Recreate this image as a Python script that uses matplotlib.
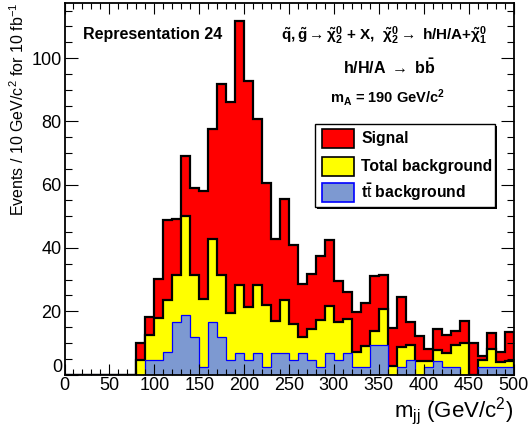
import numpy as np
import matplotlib
matplotlib.use("Agg")
import matplotlib.pyplot as plt
from matplotlib.patches import Rectangle
from matplotlib.ticker import MultipleLocator, FuncFormatter

plt.rcParams["font.family"] = ["Liberation Sans", "DejaVu Sans"]
plt.rcParams["mathtext.fontset"] = "custom"
plt.rcParams["mathtext.rm"] = "Liberation Sans"
plt.rcParams["mathtext.it"] = "Liberation Sans:italic"
plt.rcParams["mathtext.bf"] = "Liberation Sans:bold"
plt.rcParams["mathtext.default"] = "regular"

# m_jj bins, 10 GeV wide, 0-500
bin_edges = list(range(0, 510, 10))

# signal + total background (top of the red histogram)
signal_plus_bkg = [
    0, 0, 0, 0, 0, 0, 0, 0,
    9.9, 18.1, 30.3, 48.7, 49.2, 69.0, 58.8, 58.1, 77.6, 91.9,
    86.2, 111.8, 92.9, 80.8, 60.5, 42.9, 55.6, 41.0, 28.7, 31.9,
    37.6, 42.6, 29.7, 26.0, 19.7, 22.6, 31.0, 31.4, 14.8, 24.4,
    16.6, 12.3, 8.0, 14.3, 12.5, 13.9, 17.0, 10.1, 5.8, 13.0,
    7.0, 13.5,
]

# total background (yellow)
total_bkg = [
    0, 0, 0, 0, 0, 0, 0, 0,
    4.6, 12.6, 17.9, 23.4, 31.5, 50.2, 31.5, 23.9, 42.9, 31.5,
    19.5, 28.2, 21.3, 28.2, 22.0, 16.8, 23.4, 16.1, 12.0, 14.4,
    17.1, 21.6, 16.6, 17.4, 7.0, 8.9, 13.9, 20.7, 2.7, 8.7,
    9.3, 4.4, 4.4, 7.6, 6.8, 9.2, 9.8, 0, 4.6, 8.1,
    3.8, 4.3,
]

# ttbar background (blue)
ttbar_bkg = [
    0, 0, 0, 0, 0, 0, 0, 0,
    0, 4.6, 4.6, 7.0, 16.5, 18.9, 11.8, 2.3, 16.5, 12.0,
    4.6, 6.9, 4.6, 6.9, 2.3, 6.9, 6.9, 4.6, 6.9, 4.6,
    2.3, 6.9, 4.6, 6.9, 2.3, 2.3, 9.4, 9.4, 0, 2.3,
    4.6, 0, 2.3, 4.4, 2.3, 2.3, 0, 0, 2.3, 2.3,
    2.3, 2.3,
]

legend_labels = ["Signal", "Total background", r"t$\bar{\rm t}$ background"]

RED = "#ff0000"
YELLOW = "#ffff00"
BLUE_FILL = "#7d99d1"
BLUE_LINE = "#0000ff"

W, H = 530, 426


def fx(x):
    return x / W


def fy(y):
    return 1 - y / H


fig = plt.figure(figsize=(W / 100, H / 100), dpi=100)
ax = fig.add_axes([fx(64.5), fy(374.5), (513.5 - 64.5) / W, (374.5 - 3.3) / H])

ax.stairs(signal_plus_bkg, bin_edges, baseline=0, fill=True, color=RED, lw=0)
ax.stairs(signal_plus_bkg, bin_edges, baseline=0, color="black", lw=1.6)
ax.stairs(total_bkg, bin_edges, baseline=0, fill=True, color=YELLOW, lw=0)
ax.stairs(total_bkg, bin_edges, baseline=0, color="black", lw=1.6)
ax.stairs(ttbar_bkg, bin_edges, baseline=0, fill=True, color=BLUE_FILL, lw=0)
ax.stairs(ttbar_bkg, bin_edges, baseline=0, color=BLUE_LINE, lw=0.9)

ax.set_xlim(0, 500)
ax.set_ylim(0, 117.3)
ax.xaxis.set_major_locator(MultipleLocator(50))
ax.xaxis.set_minor_locator(MultipleLocator(10))
ax.yaxis.set_major_locator(MultipleLocator(20))
ax.yaxis.set_minor_locator(MultipleLocator(5))
# ROOT lifts the y "0" label off the corner; drawn separately below
ax.yaxis.set_major_formatter(FuncFormatter(lambda v, _: "" if v == 0 else f"{v:g}"))
ax.tick_params(which="both", direction="in", top=True, right=True, width=0.8,
               labelsize=13)
ax.tick_params(axis="x", which="major", length=8, pad=2)
ax.tick_params(axis="x", which="minor", length=4)
ax.tick_params(axis="y", which="major", length=9.7, pad=2)
ax.tick_params(axis="y", which="minor", length=4.9)
for sp in ax.spines.values():
    sp.set_linewidth(1.3)

fig.text(fx(62), fy(367), "0", ha="right", va="center", fontsize=13)
fig.text(fx(513), fy(417), r"m$_{\rm jj}$ (GeV/c$^{2}$)", ha="right",
         va="baseline", fontsize=16)
fig.text(fx(18), fy(3), r"Events / 10 GeV/c$^{2}$ for 10 fb$^{-1}$",
         rotation=90, ha="center", va="top", fontsize=11.5)

fig.text(fx(153), fy(35), "Representation 24", ha="center", va="center",
         fontsize=11.5, fontweight="bold")
fig.text(fx(384), fy(36),
         r"$\tilde{q}, \tilde{g} \rightarrow \tilde{\chi}^{0}_{2}$ + X,  "
         r"$\tilde{\chi}^{0}_{2} \rightarrow$ h/H/A+$\tilde{\chi}^{0}_{1}$",
         ha="center", va="center", fontsize=11, fontweight="bold")
fig.text(fx(389.5), fy(67), r"h/H/A $\rightarrow$ b$\bar{b}$",
         ha="center", va="center", fontsize=11.5, fontweight="bold")
fig.text(fx(387.5), fy(97), r"m$_{A}$ = 190 GeV/c$^{2}$",
         ha="center", va="center", fontsize=10.5, fontweight="bold")

# legend box with ROOT-style shadow
fig.add_artist(Rectangle((fx(317), fy(209)), (495 - 315) / W, (207 - 124) / H,
                         transform=fig.transFigure, facecolor="black",
                         edgecolor="none"))
fig.add_artist(Rectangle((fx(315), fy(207)), (495 - 315) / W, (207 - 124) / H,
                         transform=fig.transFigure, facecolor="white",
                         edgecolor="black", lw=1.0))
legend_fills = [RED, YELLOW, BLUE_FILL]
legend_edges = ["black", "black", BLUE_LINE]
legend_tops = [129, 156.5, 183]
for label, fc, ec, top in zip(legend_labels, legend_fills, legend_edges, legend_tops):
    fig.add_artist(Rectangle((fx(322), fy(top + 19)), 32 / W, 19 / H,
                             transform=fig.transFigure, facecolor=fc,
                             edgecolor=ec, lw=1.2))
    fig.text(fx(361), fy(top + 9.5), label, ha="left", va="center",
             fontsize=11.3, fontweight="bold")

fig.savefig("out.png", dpi=100)
